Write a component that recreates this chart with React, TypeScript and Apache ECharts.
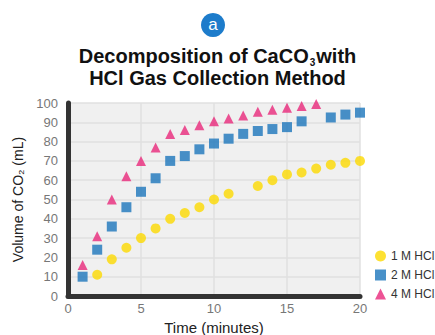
import React, { useEffect, useRef } from "react";
import * as echarts from "echarts";

const xTicks = [0, 5, 10, 15, 20];
const hcl1x = [2, 3, 4, 5, 6, 7, 8, 9, 10, 11, 13, 14, 15, 16, 17, 18, 19, 20];
const hcl1y = [11, 19, 25, 30, 35, 40, 43, 46, 50, 53, 57, 60, 63, 64, 66, 68, 69, 70];
const hcl2x = [1, 2, 3, 4, 5, 6, 7, 8, 9, 10, 11, 12, 13, 14, 15, 16, 18, 19, 20];
const hcl2y = [10, 24, 36, 46, 54, 61, 70, 72.5, 76, 79, 81.5, 84, 85.5, 86.5, 87.5, 90.5, 92.5, 94, 95];
const hcl4x = [1, 2, 3, 4, 5, 6, 7, 8, 9, 10, 11, 12, 13, 14, 15, 16, 17, 18];
const hcl4y = [16, 31, 50, 62, 70, 77, 84, 86, 88.5, 90.5, 92, 93.5, 95.5, 96.5, 97.5, 98.5, 99.5, 101];
const seriesNames = ["1 M HCl", "2 M HCl", "4 M HCl"];
const colors = ["#fdd900", "#1b75bb", "#e9287b"];

const pairs = (xs: number[], ys: number[]) => xs.map((x, i) => [x, ys[i]]);

export default function App() {
  const ref = useRef<HTMLDivElement>(null);
  useEffect(() => {
    document.body.style.margin = "0";
    const chart = echarts.init(ref.current!, null, { renderer: "svg" });
    chart.setOption({
      animation: false,
      title: {
        text: "Decomposition of CaCO{sub|3}with\nHCl Gas Collection Method",
        left: "center",
        top: 40,
        textStyle: {
          fontFamily: "Liberation Sans",
          fontWeight: "bold",
          fontSize: 20,
          color: "#111",
          lineHeight: 22,
          rich: {
            sub: {
              fontFamily: "Liberation Sans",
              fontWeight: "bold",
              fontSize: 10,
              color: "#111",
              verticalAlign: "bottom",
              lineHeight: 14,
              padding: [14, 1, 0, 1],
            },
          },
        },
      },
      graphic: [
        {
          type: "circle",
          shape: { cx: 213, cy: 25, r: 12 },
          style: { fill: "#1d7ccb" },
        },
        {
          type: "text",
          x: 213,
          y: 24,
          style: {
            text: "a",
            fill: "#fff",
            fontSize: 17,
            fontFamily: "Liberation Sans",
            align: "center",
            verticalAlign: "middle",
          },
        },
      ],
      legend: {
        orient: "vertical",
        left: 370,
        top: 245,
        itemWidth: 11,
        itemHeight: 11,
        itemGap: 7,
        textStyle: { fontFamily: "Liberation Sans", fontSize: 12, color: "#333" },
        data: seriesNames,
      },
      grid: {
        left: 68,
        right: 75,
        top: 103,
        bottom: 39,
        outerBoundsMode: "none",
        containLabel: false,
        show: true,
        backgroundColor: "#f0f0f0",
        borderWidth: 0,
      },
      xAxis: {
        type: "value",
        min: 0,
        max: 20,
        interval: 5,
        name: "Time (minutes)",
        nameLocation: "middle",
        nameGap: 24,
        nameTextStyle: { fontFamily: "Liberation Sans", fontSize: 15, color: "#222" },
        axisLine: { lineStyle: { color: "#333", width: 5, cap: "round" } },
        axisTick: { show: false },
        axisLabel: {
          margin: 6,
          fontFamily: "Liberation Sans",
          fontSize: 13,
          color: "#777",
          formatter: (v: number) => (xTicks.includes(v) ? String(v) : ""),
        },
        splitLine: { show: true, lineStyle: { color: "#e0e0e0", width: 1.5 } },
      },
      yAxis: {
        type: "value",
        min: 0,
        max: 100,
        interval: 10,
        name: "Volume of CO₂ (mL)",
        nameLocation: "middle",
        nameGap: 41,
        nameTextStyle: { fontFamily: "Liberation Sans", fontSize: 14, color: "#222" },
        axisLine: { show: true, lineStyle: { color: "#333", width: 5, cap: "round" } },
        axisTick: { show: false },
        axisLabel: {
          margin: 10,
          fontFamily: "Liberation Sans",
          fontSize: 13,
          color: "#777",
        },
        splitLine: { show: true, lineStyle: { color: "#e0e0e0", width: 1.5 } },
      },
      series: [
        {
          name: seriesNames[0],
          type: "scatter",
          symbol: "circle",
          symbolSize: 10,
          itemStyle: { color: colors[0] },
          data: pairs(hcl1x, hcl1y),
        },
        {
          name: seriesNames[1],
          type: "scatter",
          symbol: "rect",
          symbolSize: 10,
          itemStyle: { color: colors[1] },
          data: pairs(hcl2x, hcl2y),
        },
        {
          name: seriesNames[2],
          type: "scatter",
          symbol: "triangle",
          symbolSize: 10,
          itemStyle: { color: colors[2] },
          data: pairs(hcl4x, hcl4y),
        },
      ],
    });
    return () => chart.dispose();
  }, []);
  return <div ref={ref} style={{ width: 435, height: 335 }} />;
}
